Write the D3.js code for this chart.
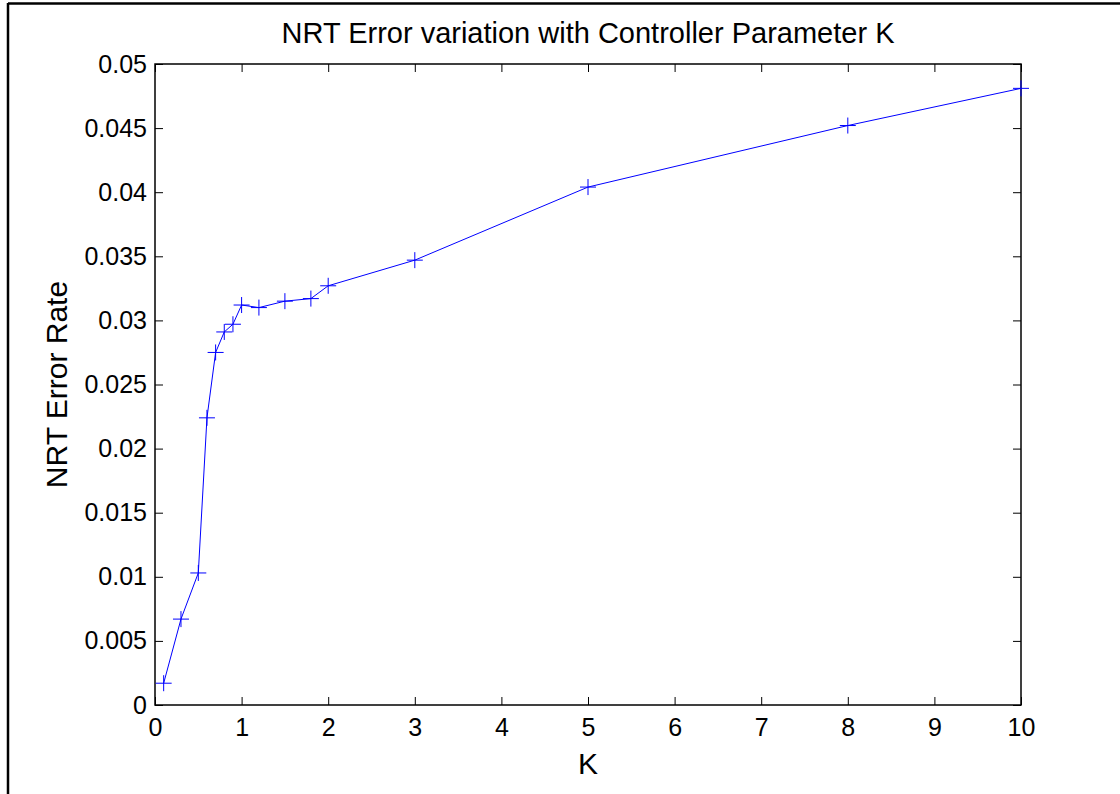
<html>
<head>
<style type="text/css">
  body { margin: 0; background: #fff; }
  text { font-family: "Liberation Sans", Arial, sans-serif; fill: #000; }
  .axis path, .axis line { stroke: #000; stroke-width: 1px; }
</style>
<script src="https://d3js.org/d3.v7.min.js"></script>
</head>
<body>
<script type="text/javascript">
// K values and measured NRT error rates
var k_values = [0.1, 0.3, 0.5, 0.6, 0.7, 0.8, 0.9, 1.0, 1.2, 1.5, 1.8, 2, 3, 5, 8, 10];
var error_rates = [0.0017, 0.0067, 0.0103, 0.0224, 0.0275, 0.0291, 0.0297, 0.0312, 0.0310, 0.0315, 0.0317, 0.0327, 0.0347, 0.0404, 0.0452, 0.0481];
var x_ticks = [0, 1, 2, 3, 4, 5, 6, 7, 8, 9, 10];
var y_ticks = [0, 0.005, 0.01, 0.015, 0.02, 0.025, 0.03, 0.035, 0.04, 0.045, 0.05];

var width = 1120, height = 794;
var plot_left = 155, plot_right = 1021, plot_top = 64, plot_bottom = 705;

var data = k_values.map(function(k, i) { return {k: k, e: error_rates[i]}; });

var svg = d3.select('body').append('svg')
  .attr('width', width)
  .attr('height', height);

// outer figure frame (only top and left edges visible)
svg.append('line').attr('x1', 8).attr('y1', 3.5).attr('x2', width).attr('y2', 3.5)
  .attr('stroke', '#000').attr('stroke-width', 2.5);
svg.append('line').attr('x1', 8).attr('y1', 3).attr('x2', 8).attr('y2', height)
  .attr('stroke', '#000').attr('stroke-width', 2.5);

var x_scale = d3.scaleLinear().domain([0, 10]).range([plot_left, plot_right]);
var y_scale = d3.scaleLinear().domain([0, 0.05]).range([plot_bottom, plot_top]);

var fmt = function(d) { return d3.format('~g')(d); };

// bottom axis, ticks pointing inward
svg.append('g')
  .attr('class', 'x axis')
  .attr('transform', 'translate(0,' + plot_bottom + ')')
  .call(d3.axisBottom(x_scale).tickValues(x_ticks).tickFormat(fmt).tickSizeInner(-8).tickSizeOuter(0).tickPadding(13))
  .call(function(g) { g.select('.domain').remove(); })
  .selectAll('text').attr('font-size', 25).attr('dy', '0.71em');

// top axis, no labels
svg.append('g')
  .attr('class', 'axis')
  .attr('transform', 'translate(0,' + plot_top + ')')
  .call(d3.axisTop(x_scale).tickValues(x_ticks).tickFormat('').tickSizeInner(-8).tickSizeOuter(0))
  .call(function(g) { g.select('.domain').remove(); });

// left axis
svg.append('g')
  .attr('class', 'y axis')
  .attr('transform', 'translate(' + plot_left + ',0)')
  .call(d3.axisLeft(y_scale).tickValues(y_ticks).tickFormat(fmt).tickSizeInner(-8).tickSizeOuter(0).tickPadding(8))
  .call(function(g) { g.select('.domain').remove(); })
  .selectAll('text').attr('font-size', 25);

// right axis
svg.append('g')
  .attr('class', 'axis')
  .attr('transform', 'translate(' + plot_right + ',0)')
  .call(d3.axisRight(y_scale).tickValues(y_ticks).tickFormat('').tickSizeInner(-8).tickSizeOuter(0))
  .call(function(g) { g.select('.domain').remove(); });

// plot box
svg.append('rect')
  .attr('x', plot_left).attr('y', plot_top)
  .attr('width', plot_right - plot_left).attr('height', plot_bottom - plot_top)
  .attr('fill', 'none').attr('stroke', '#000').attr('stroke-width', 1.5);

// data line
var line = d3.line()
  .x(function(d) { return x_scale(d.k); })
  .y(function(d) { return y_scale(d.e); });

svg.append('path')
  .datum(data)
  .attr('d', line)
  .attr('fill', 'none')
  .attr('stroke', '#0000ff')
  .attr('stroke-width', 1);

// '+' markers
var m = 8;
svg.selectAll('path.marker')
  .data(data)
  .enter()
  .append('path')
  .attr('class', 'marker')
  .attr('d', function(d) {
    var cx = x_scale(d.k), cy = y_scale(d.e);
    return 'M' + (cx - m) + ',' + cy + 'H' + (cx + m) + 'M' + cx + ',' + (cy - m) + 'V' + (cy + m);
  })
  .attr('stroke', '#0000ff')
  .attr('stroke-width', 1)
  .attr('fill', 'none');

// title and labels
svg.append('text')
  .text('NRT Error variation with Controller Parameter K')
  .attr('x', (plot_left + plot_right) / 2)
  .attr('y', 43)
  .attr('text-anchor', 'middle')
  .attr('font-size', 29);

svg.append('text')
  .text('K')
  .attr('x', (plot_left + plot_right) / 2)
  .attr('y', 774)
  .attr('text-anchor', 'middle')
  .attr('font-size', 30);

svg.append('text')
  .text('NRT Error Rate')
  .attr('transform', 'translate(67,' + ((plot_top + plot_bottom) / 2) + ') rotate(-90)')
  .attr('text-anchor', 'middle')
  .attr('font-size', 30);
</script>
</body>
</html>
